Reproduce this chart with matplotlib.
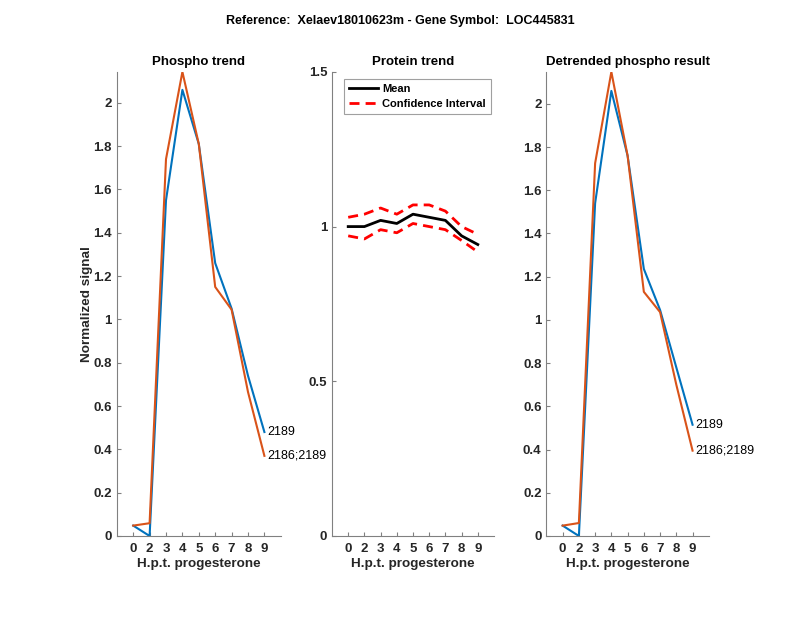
import matplotlib
matplotlib.use('Agg')
import matplotlib.pyplot as plt

plt.rcParams['font.family'] = ['Liberation Sans', 'DejaVu Sans']
plt.rcParams['axes.spines.right'] = False
plt.rcParams['axes.spines.top'] = False

BLUE = '#0072BD'
ORANGE = '#D95319'
DARK = '#262626'

# time points (positions) and their tick labels
pos = [1, 2, 3, 4, 5, 6, 7, 8, 9]
tick_labels = ['0', '2', '3', '4', '5', '6', '7', '8', '9']

# phospho trend
phos_2189 = [0.048, 0.0, 1.55, 2.06, 1.81, 1.26, 1.05, 0.74, 0.48]
phos_2186_2189 = [0.048, 0.059, 1.74, 2.143, 1.81, 1.15, 1.045, 0.665, 0.37]

# protein trend
prot_mean = [1.0, 1.0, 1.02, 1.01, 1.04, 1.03, 1.02, 0.97, 0.942]
prot_upper = [1.03, 1.04, 1.06, 1.04, 1.07, 1.07, 1.05, 1.0, 0.975]
prot_lower = [0.97, 0.96, 0.99, 0.98, 1.01, 1.0, 0.99, 0.955, 0.918]

# detrended phospho
det_2189 = [0.048, 0.0, 1.54, 2.06, 1.76, 1.236, 1.046, 0.78, 0.515]
det_2186_2189 = [0.048, 0.06, 1.725, 2.148, 1.76, 1.13, 1.036, 0.70, 0.395]

yt = [0, 0.2, 0.4, 0.6, 0.8, 1, 1.2, 1.4, 1.6, 1.8, 2]
yt_labels = ['0', '0.2', '0.4', '0.6', '0.8', '1', '1.2', '1.4', '1.6', '1.8', '2']

fig = plt.figure(figsize=(8, 6.18), dpi=100)
ax1 = fig.add_axes([0.146, 0.1327, 0.205, 0.751])
ax2 = fig.add_axes([0.415, 0.1327, 0.2025, 0.751])
ax3 = fig.add_axes([0.683, 0.1327, 0.203, 0.751])

def style(ax):
    for s in ['left', 'bottom']:
        ax.spines[s].set_color('#808080')
    ax.tick_params(direction='in', length=3, colors='#808080', labelcolor=DARK, labelsize=9.5)
    ax.tick_params(axis='x', pad=5)
    for lab in ax.get_xticklabels() + ax.get_yticklabels():
        lab.set_fontweight('bold')
    ax.set_xlim(0, 10)
    ax.set_xlabel('H.p.t. progesterone', fontsize=9.7, fontweight='bold', color=DARK, labelpad=2)

# left panel
ax1.plot(pos, phos_2189, color=BLUE, lw=1.5)
ax1.plot(pos, phos_2186_2189, color=ORANGE, lw=1.5)
ax1.text(9.2, phos_2189[-1], '2189', fontsize=9, va='center')
ax1.text(9.2, phos_2186_2189[-1], '2186;2189', fontsize=9, va='center')
ax1.set_ylim(0, max(phos_2186_2189))
ax1.set_xticks(pos, tick_labels)
ax1.set_yticks(yt, yt_labels)
ax1.set_title('Phospho trend', fontsize=9.5, fontweight='bold', pad=5)
ax1.set_ylabel('Normalized signal', fontsize=9.7, fontweight='bold', color=DARK, labelpad=0)
style(ax1)

# middle panel
ax2.plot(pos, prot_mean, color='black', lw=2, label='Mean')
ax2.plot(pos, prot_upper, color='red', lw=2, ls=(0, (3.6, 2.2)), label='Confidence Interval')
ax2.plot(pos, prot_lower, color='red', lw=2, ls=(0, (3.6, 2.2)))
ax2.set_ylim(0, 1.5)
ax2.set_xticks(pos, tick_labels)
ax2.set_yticks([0, 0.5, 1, 1.5], ['0', '0.5', '1', '1.5'])
ax2.set_title('Protein trend', fontsize=9.5, fontweight='bold', pad=5)
leg = ax2.legend(loc='upper left', fontsize=8, fancybox=False, framealpha=1,
                 edgecolor='#A0A0A0', borderpad=0.45, handlelength=2.6,
                 handletextpad=0.4, labelspacing=0.45, borderaxespad=0,
                 bbox_to_anchor=(0.075, 0.985))
for t in leg.get_texts():
    t.set_fontweight('bold')
leg.get_frame().set_linewidth(0.8)
style(ax2)

# right panel
ax3.plot(pos, det_2189, color=BLUE, lw=1.5)
ax3.plot(pos, det_2186_2189, color=ORANGE, lw=1.5)
ax3.text(9.2, det_2189[-1], '2189', fontsize=9, va='center')
ax3.text(9.2, det_2186_2189[-1], '2186;2189', fontsize=9, va='center')
ax3.set_ylim(0, max(det_2186_2189))
ax3.set_xticks(pos, tick_labels)
ax3.set_yticks(yt, yt_labels)
ax3.set_title('Detrended phospho result', fontsize=9.5, fontweight='bold', pad=5)
style(ax3)

fig.text(0.5, 0.966, 'Reference:  Xelaev18010623m - Gene Symbol:  LOC445831',
         ha='center', va='center', fontsize=9, fontweight='bold')

fig.savefig('out.png', dpi=100)
